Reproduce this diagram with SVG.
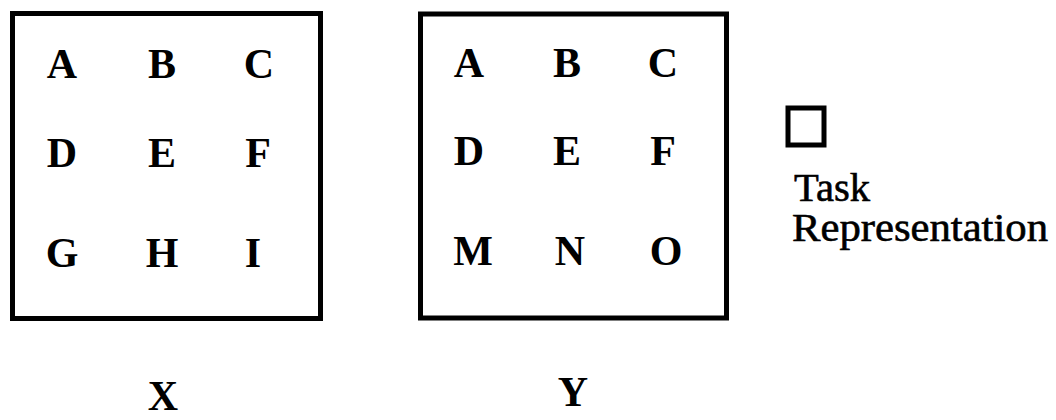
<svg xmlns="http://www.w3.org/2000/svg" width="1056" height="420" viewBox="0 0 1056 420">
<style>
.box{fill:none;stroke:#000;stroke-width:5}
.L{font-family:"Liberation Serif","Times New Roman",serif;font-weight:bold;font-size:42px;fill:#000;text-anchor:middle}
.T{font-family:"Liberation Serif","Times New Roman",serif;font-size:39px;fill:#000;stroke:#000;stroke-width:0.6}
</style>
<rect width="1056" height="420" fill="#fff"/>
<g id="boxX">
<rect class="box" x="12.5" y="13.5" width="308" height="305"/>
<text class="L" x="62" y="78">A</text>
<text class="L" x="162" y="78">B</text>
<text class="L" x="259" y="78">C</text>
<text class="L" x="62" y="167">D</text>
<text class="L" x="162" y="167">E</text>
<text class="L" x="258" y="167">F</text>
<text class="L" x="62" y="267">G</text>
<text class="L" x="162" y="267">H</text>
<text class="L" x="253" y="267">I</text>
</g>
<g id="boxY">
<rect class="box" x="420.5" y="14" width="306" height="304"/>
<text class="L" x="469" y="77">A</text>
<text class="L" x="567" y="77">B</text>
<text class="L" x="663" y="77">C</text>
<text class="L" x="469" y="165">D</text>
<text class="L" x="567" y="165">E</text>
<text class="L" x="663" y="165">F</text>
<text class="L" x="473" y="265">M</text>
<text class="L" x="570" y="265">N</text>
<text class="L" x="666" y="265">O</text>
</g>
<g id="legend">
<rect class="box" x="788" y="108" width="36" height="37"/>
<text class="T" x="794" y="201" textLength="76" lengthAdjust="spacingAndGlyphs">Task</text>
<text class="T" x="792" y="241" textLength="256" lengthAdjust="spacingAndGlyphs">Representation</text>
</g>
<g id="labelX"><text class="L" x="163" y="410">X</text></g>
<g id="labelY"><text class="L" x="573" y="406">Y</text></g>
<g id="connectors"></g>
</svg>
